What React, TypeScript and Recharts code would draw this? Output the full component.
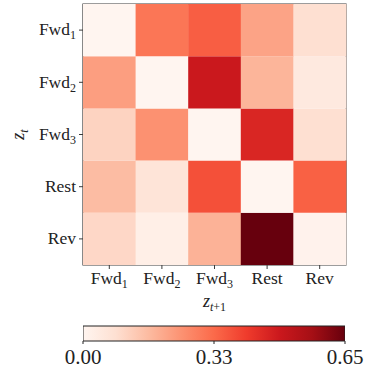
import React from 'react';
import { BarChart, Bar, Cell, XAxis, YAxis, ReferenceArea, Label } from 'recharts';

// states (rows = z_t, columns = z_{t+1})
const stateNames = ['Fwd', 'Fwd', 'Fwd', 'Rest', 'Rev'];
const stateSubs = ['1', '2', '3', '', ''];

// transition values, one array per row (from state)
const fromFwd1 = [0.0, 0.3, 0.345, 0.21, 0.08];
const fromFwd2 = [0.22, 0.0, 0.49, 0.175, 0.045];
const fromFwd3 = [0.11, 0.245, 0.0, 0.455, 0.08];
const fromRest = [0.16, 0.065, 0.37, 0.0, 0.34];
const fromRev = [0.1, 0.025, 0.18, 0.65, 0.01];
const rows = [fromFwd1, fromFwd2, fromFwd3, fromRest, fromRev];

const vmax = 0.65;
const colorbarTicks = [0, 0.325, 0.65];
const colorbarLabels = ['0.00', '0.33', '0.65'];

// matplotlib "Reds"
const reds = ['#fff5f0', '#fee0d2', '#fcbba1', '#fc9272', '#fb6a4a', '#ef3b2c', '#cb181d', '#a50f15', '#67000d'];

const hex = (h: string) => [1, 3, 5].map((i) => parseInt(h.slice(i, i + 2), 16));
const colorFor = (v: number) => {
  const t = Math.max(0, Math.min(1, v / vmax)) * (reds.length - 1);
  const i = Math.min(Math.floor(t), reds.length - 2);
  const f = t - i;
  const a = hex(reds[i]);
  const b = hex(reds[i + 1]);
  const c = a.map((x, k) => Math.round(x + (b[k] - x) * f));
  return `rgb(${c[0]},${c[1]},${c[2]})`;
};

const font = "'DejaVu Serif', serif";
const serif = { fontFamily: "'Liberation Serif', 'Times New Roman', serif" };
const frame = '#3a3a3a';

// one column per "to" state, each row stacked as one unit-high block
const chartData = stateNames.map((_, j) => {
  const d: any = { col: j };
  rows.forEach((_, i) => (d[`r${i}`] = 1));
  return d;
});
// bottom of the stack is the last row
const stackOrder = [4, 3, 2, 1, 0];

const StateLabel = ({ x, y, i, anchor, dy }: any) => (
  <text x={x} y={y} dy={dy} textAnchor={anchor} fill="#222" style={serif} fontSize={17.5}>
    {stateNames[i]}
    {stateSubs[i] && (
      <tspan fontSize={12} dy={4}>
        {stateSubs[i]}
      </tspan>
    )}
  </text>
);

const YTick = (props: any) => {
  const { x, y, payload } = props;
  const i = Math.round(4.5 - payload.value);
  return <StateLabel x={x} y={y} i={i} anchor="end" dy="0.3em" />;
};

const XTick = (props: any) => {
  const { x, y, payload } = props;
  return <StateLabel x={x} y={y} i={payload.value} anchor="middle" dy="0.75em" />;
};

const CbTick = (props: any) => {
  const { x, y, payload } = props;
  return (
    <text x={x} y={y} dy="0.75em" textAnchor="middle" fill="#222" style={serif} fontSize={21}>
      {colorbarLabels[colorbarTicks.indexOf(payload.value)]}
    </text>
  );
};

export default function App() {
  return (
    <div style={{ position: 'absolute', left: 0, top: 0, width: 368, height: 370, background: '#fff' }}>
      <BarChart
        width={368}
        height={315}
        data={chartData}
        margin={{ top: 4, right: 22, left: 0, bottom: 0 }}
        barCategoryGap={0}
        barGap={0}
      >
        <XAxis
          dataKey="col"
          type="category"
          height={50}
          tick={<XTick />}
          tickSize={4}
          tickMargin={2}
          tickLine={{ stroke: frame }}
          axisLine={false}
          interval={0}
        >
          <Label
            content={({ viewBox }: any) => (
              <text
                x={viewBox.x + viewBox.width / 2}
                y={viewBox.y + 42}
                textAnchor="middle"
                style={serif}
                fill="#222"
              >
                <tspan fontSize={18} fontStyle="italic">z</tspan>
                <tspan fontSize={12} dy={4} fontStyle="italic">t</tspan>
                <tspan fontSize={12}>+1</tspan>
              </text>
            )}
          />
        </XAxis>
        <YAxis
          type="number"
          domain={[0, 5]}
          ticks={[4.5, 3.5, 2.5, 1.5, 0.5]}
          width={83}
          tick={<YTick />}
          tickSize={4}
          tickMargin={3}
          tickLine={{ stroke: frame }}
          axisLine={false}
          interval={0}
          allowDataOverflow
        >
          <Label
            content={({ viewBox }: any) => (
              <text
                transform={`translate(${viewBox.x + 24}, ${viewBox.y + viewBox.height / 2}) rotate(-90)`}
                textAnchor="middle"
                style={serif}
                fill="#222"
              >
                <tspan fontSize={18} fontStyle="italic">z</tspan>
                <tspan fontSize={12} dy={4} fontStyle="italic">t</tspan>
              </text>
            )}
          />
        </YAxis>
        {stackOrder.map((ri) => (
          <Bar key={ri} dataKey={`r${ri}`} stackId="a" isAnimationActive={false}>
            {chartData.map((_, j) => (
              <Cell key={j} fill={colorFor(rows[ri][j])} />
            ))}
          </Bar>
        ))}
        <ReferenceArea y1={0} y2={5} fill="none" fillOpacity={0} stroke={frame} strokeWidth={1.2} ifOverflow="visible" />
      </BarChart>

      <div style={{ position: 'absolute', left: 0, top: 315 }}>
        <BarChart
          width={368}
          height={55}
          layout="vertical"
          data={[{ name: 'cb', v: vmax }]}
          margin={{ top: 11, right: 23, left: 83, bottom: 0 }}
          barCategoryGap={0}
        >
          <defs>
            <linearGradient id="redsGrad" x1="0" y1="0" x2="1" y2="0">
              {reds.map((c, i) => (
                <stop key={i} offset={i / (reds.length - 1)} stopColor={c} />
              ))}
            </linearGradient>
          </defs>
          <XAxis
            type="number"
            domain={[0, vmax]}
            ticks={colorbarTicks}
            height={29}
            tickSize={3}
            tickMargin={4}
            tickLine={{ stroke: '#222' }}
            axisLine={false}
            interval={0}
            tick={<CbTick />}
            allowDataOverflow
          />
          <YAxis type="category" dataKey="name" hide />
          <Bar dataKey="v" fill="url(#redsGrad)" stroke="#222" strokeWidth={1} isAnimationActive={false} />
        </BarChart>
      </div>
    </div>
  );
}
